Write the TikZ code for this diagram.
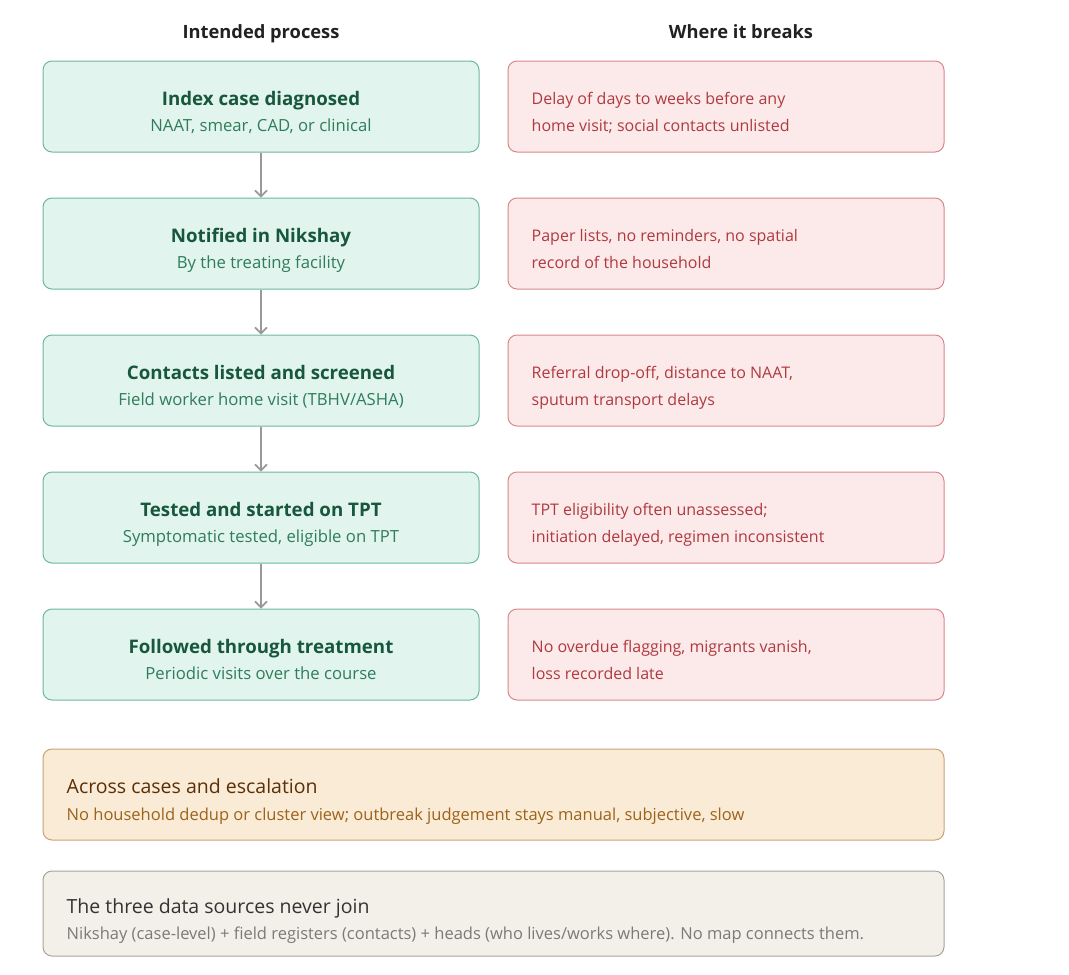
\documentclass[tikz,border=0pt]{standalone}
\usepackage{fontspec}
\setmainfont{Open Sans}
\usepackage{xcolor}
\usetikzlibrary{arrows.meta}

\definecolor{stagefill}{HTML}{E2F4EE}
\definecolor{stageline}{HTML}{6DB89A}
\definecolor{stagetitle}{HTML}{17573D}
\definecolor{stagesub}{HTML}{2E7D5B}
\definecolor{breakfill}{HTML}{FCEAEA}
\definecolor{breakline}{HTML}{D9878C}
\definecolor{breaktext}{HTML}{B0393F}
\definecolor{casefill}{HTML}{FAEBD7}
\definecolor{caseline}{HTML}{C9A276}
\definecolor{casetitle}{HTML}{5A2F06}
\definecolor{casesub}{HTML}{9C6319}
\definecolor{datafill}{HTML}{F3EFE9}
\definecolor{dataline}{HTML}{A8A39B}
\definecolor{datatitle}{HTML}{333333}
\definecolor{datasub}{HTML}{7A7A7A}
\definecolor{flowgray}{HTML}{999999}

\begin{document}
\begin{tikzpicture}[x=1pt, y=-1pt]
    	\tikzstyle{box}=[rounded corners=9pt, line width=1pt, minimum height=91pt]
    	\tikzstyle{stage}=[box, draw=stageline, fill=stagefill, minimum width=436pt]
    	\tikzstyle{gap}=[box, draw=breakline, fill=breakfill, minimum width=436pt]
    	\tikzstyle{wide}=[box, minimum width=901pt]
    	\tikzstyle{head}=[anchor=base, font=\fontsize{18.3}{22}\selectfont\bfseries, text=black!87]
    	\tikzstyle{stitle}=[anchor=base, inner sep=0pt, font=\fontsize{18.7}{22}\selectfont\bfseries, text=stagetitle]
    	\tikzstyle{ssub}=[anchor=base, inner sep=0pt, font=\fontsize{16.7}{20}\selectfont, text=stagesub]
    	\tikzstyle{gtext}=[anchor=base west, inner sep=0pt, font=\fontsize{16}{20}\selectfont, text=breaktext]
    	\tikzstyle{wtitle}=[anchor=base west, inner sep=0pt, font=\fontsize{19.5}{24}\selectfont]
    	\tikzstyle{wsub}=[anchor=base west, inner sep=0pt, font=\fontsize{16.5}{20}\selectfont]
    	\tikzstyle{flow}=[-{Straight Barb[length=6pt, width=12pt]}, draw=flowgray, line width=1.6pt]
    	
    	\useasboundingbox (0,0) rectangle (1069,975);
    	
    	% Headers
    	\node at (261, 38) [head] (head_left) {Intended process};
    	\node at (741, 38) [head] (head_right) {Where it breaks};
    	
    	% Intended process
    	\foreach \x/\t/\s in {1/{Index case diagnosed}/{NAAT, smear, CAD, or clinical},
    	                      2/{Notified in Nikshay}/{By the treating facility},
    	                      3/{Contacts listed and screened}/{Field worker home visit (TBHV/ASHA)},
    	                      4/{Tested and started on TPT}/{Symptomatic tested, eligible on TPT},
    	                      5/{Followed through treatment}/{Periodic visits over the course}}
    	{
    	\node at (261, 106.5+\x*137-137) [stage] (stage_\x) {};
    	\node at ([yshift=1.5pt]stage_\x.center) [stitle] (stage_\x_t) {\t};
    	\node at ([yshift=-24.5pt]stage_\x.center) [ssub] (stage_\x_s) {\s};
    	}
    	
    	% Where it breaks
    	\foreach \x/\a/\b in {1/{Delay of days to weeks before any}/{home visit; social contacts unlisted},
    	                      2/{Paper lists, no reminders, no spatial}/{record of the household},
    	                      3/{Referral drop-off, distance to NAAT,}/{sputum transport delays},
    	                      4/{TPT eligibility often unassessed;}/{initiation delayed, regimen inconsistent},
    	                      5/{No overdue flagging, migrants vanish,}/{loss recorded late}}
    	{
    	\node at (726, 106.5+\x*137-137) [gap] (gap_\x) {};
    	\node at ([xshift=24pt, yshift=2.5pt]gap_\x.west) [gtext] (gap_\x_a) {\a};
    	\node at ([xshift=24pt, yshift=-24.5pt]gap_\x.west) [gtext] (gap_\x_b) {\b};
    	}
    	
    	% Across cases
    	\node at (493.5, 794.5) [wide, draw=caseline, fill=casefill] (cases) {};
    	\node at ([xshift=24pt, yshift=1.5pt]cases.west) [wtitle, text=casetitle] (cases_t) {Across cases and escalation};
    	\node at ([xshift=24pt, yshift=-25.5pt]cases.west) [wsub, text=casesub] (cases_s)
    	    {No household dedup or cluster view; outbreak judgement stays manual, subjective, slow};
    	
    	% Data sources
    	\node at (493.5, 913.5) [wide, draw=dataline, fill=datafill, minimum height=85pt] (sources) {};
    	\node at ([xshift=24pt, yshift=0.5pt]sources.west) [wtitle, text=datatitle] (sources_t) {The three data sources never join};
    	\node at ([xshift=24pt, yshift=-25.5pt]sources.west) [wsub, text=datasub] (sources_s)
    	    {Nikshay (case-level) + field registers (contacts) + heads (who lives/works where). No map connects them.};
    	
    	\draw [flow] (stage_1) to (stage_2);
    	\draw [flow] (stage_2) to (stage_3);
    	\draw [flow] (stage_3) to (stage_4);
    	\draw [flow] (stage_4) to (stage_5);

\end{tikzpicture}
\end{document}
